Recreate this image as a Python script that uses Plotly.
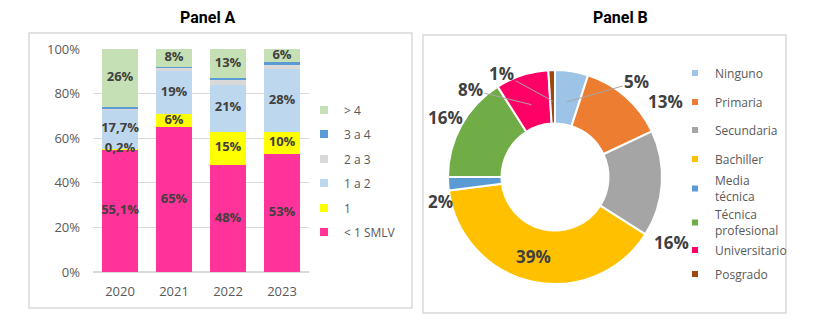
import numpy as np
import plotly.graph_objects as go

# Panel A: income bands by year (share of total, %)
years = ["2020", "2021", "2022", "2023"]
band_names = ["< 1 SMLV", "1", "1 a 2", "2 a 3", "3 a 4", "> 4"]
band_lt1 = [55.1, 65, 48, 53]
band_1 = [0.2, 6, 15, 10]
band_1a2 = [17.7, 19, 21, 28]
band_2a3 = [0.5, 1.5, 2, 2]
band_3a4 = [0.5, 0.5, 1, 1]
band_gt4 = [26, 8, 13, 6]
band_labels = [
    ["55,1%", "65%", "48%", "53%"],
    ["0,2%", "6%", "15%", "10%"],
    ["17,7%", "19%", "21%", "28%"],
    ["", "", "", ""],
    ["", "", "", ""],
    ["26%", "8%", "13%", "6%"],
]
band_colors = ["#FF3399", "#FFFF00", "#BDD7EE", "#D9D9D9", "#5B9BD5", "#C5E0B4"]
y_ticks = [0, 20, 40, 60, 80, 100]
y_ticktext = ["0%", "20%", "40%", "60%", "80%", "100%"]

# Panel B: education level (%)
levels = ["Ninguno", "Primaria", "Secundaria", "Bachiller", "Media<br>técnica",
          "Técnica<br>profesional", "Universitario", "Posgrado"]
level_pct = [5, 13, 16, 39, 2, 16, 8, 1]
level_colors = ["#9DC3E6", "#ED7D31", "#A5A5A5", "#FFC000", "#5B9BD5",
                "#70AD47", "#FF0066", "#9E480E"]

FONT = "Open Sans, Noto Sans, sans-serif"
LABEL_GRAY = "#404040"
AXIS_GRAY = "#595959"
W, H = 827, 323


def px_x(v):
    return v / W


def px_y(v):
    return (H - v) / H


fig = go.Figure()

# ---- Panel A: stacked bars ----
band_values = [band_lt1, band_1, band_1a2, band_2a3, band_3a4, band_gt4]
for name, vals, col in zip(band_names, band_values, band_colors):
    fig.add_trace(go.Bar(
        x=years, y=vals, name=name, marker=dict(color=col, line=dict(width=0)),
        showlegend=False, hoverinfo="skip",
    ))

# segment labels drawn on top of all bars, at each segment's middle
stack = np.array(band_values, dtype=float)
tops = np.cumsum(stack, axis=0)
mids = tops - stack / 2
for row, txt in enumerate(band_labels):
    keep = [i for i, t in enumerate(txt) if t]
    if not keep:
        continue
    fig.add_trace(go.Scatter(
        x=[years[i] for i in keep], y=[mids[row, i] for i in keep],
        text=[txt[i] for i in keep], mode="text", showlegend=False,
        textfont=dict(family=FONT, size=13, color=LABEL_GRAY, weight="bold"),
        hoverinfo="skip", cliponaxis=False,
    ))

# ---- Panel B: donut ----
PIE_X = (448, 662)
PIE_Y = (70, 284)
fig.add_trace(go.Pie(
    labels=levels, values=level_pct, sort=False, direction="clockwise",
    rotation=0, hole=0.5, textinfo="none",
    marker=dict(colors=level_colors, line=dict(color="white", width=2)),
    domain=dict(x=[px_x(PIE_X[0]), px_x(PIE_X[1])],
                y=[px_y(PIE_Y[1]), px_y(PIE_Y[0])]),
    showlegend=False, hoverinfo="skip",
))

# slice labels: anchored inside each slice at its mid angle, text offset outward
cx, cy = sum(PIE_X) / 2, sum(PIE_Y) / 2
anchor_r = 76
label_offsets = [(70, -20), (60, -18), (41, 61), (-5, 5), (-39, 20),
                 (-43, -23), (-61, -15), (-51, -28)]
leader = [True, False, False, False, False, False, True, True]
pct = np.array(level_pct, dtype=float)
mid_frac = (np.cumsum(pct) - pct / 2) / pct.sum()
annotations = []
for v, f, (ax, ay), lead in zip(level_pct, mid_frac, label_offsets, leader):
    theta = 2 * np.pi * f
    px = cx + anchor_r * np.sin(theta)
    py = cy - anchor_r * np.cos(theta)
    annotations.append(dict(
        text=f"<b>{v}%</b>", x=px_x(px), y=px_y(py), xref="paper", yref="paper",
        showarrow=True, ax=ax, ay=ay, arrowhead=0, arrowwidth=1,
        arrowcolor="#A6A6A6" if lead else "rgba(0,0,0,0)", standoff=0,
        font=dict(family=FONT, size=17, color=LABEL_GRAY),
    ))

# ---- Legends: one small legend per entry so row spacing can be set freely ----
legends = {}
panel_a_rows = [232, 208, 183, 159, 134, 110]   # < 1 SMLV at the bottom, > 4 on top
panel_b_rows = [73, 102, 130, 159, 189, 223, 250, 274]

n = 0
for name, col, row in zip(band_names, band_colors, panel_a_rows):
    n += 1
    key = "legend" if n == 1 else f"legend{n}"
    fig.add_trace(go.Scatter(
        x=[None], y=[None], mode="markers", name=name, legend=key,
        marker=dict(symbol="square", size=8, color=col), hoverinfo="skip"))
    legends[key] = dict(x=px_x(304), y=px_y(row), xanchor="left", yanchor="middle",
                        font=dict(size=12, color=AXIS_GRAY, family=FONT),
                        bgcolor="rgba(0,0,0,0)", itemwidth=30, borderwidth=0)

for name, col, row in zip(levels, level_colors, panel_b_rows):
    n += 1
    key = f"legend{n}"
    fig.add_trace(go.Scatter(
        x=[None], y=[None], mode="markers", name=name, legend=key,
        marker=dict(symbol="square", size=6, color=col), hoverinfo="skip"))
    legends[key] = dict(x=px_x(675), y=px_y(row), xanchor="left", yanchor="middle",
                        font=dict(size=12, color=AXIS_GRAY, family=FONT),
                        bgcolor="rgba(0,0,0,0)", itemwidth=30, borderwidth=0)

annotations += [
    dict(text="<b>Panel A</b>", x=px_x(208), y=px_y(18), xref="paper",
         yref="paper", showarrow=False, xanchor="center", yanchor="middle",
         font=dict(family="Roboto, Arial, sans-serif", size=16, color="black")),
    dict(text="<b>Panel B</b>", x=px_x(620), y=px_y(18), xref="paper",
         yref="paper", showarrow=False, xanchor="center", yanchor="middle",
         font=dict(family="Roboto, Arial, sans-serif", size=16, color="black")),
]

fig.update_layout(
    width=W, height=H,
    margin=dict(l=0, r=0, t=0, b=0, autoexpand=False),
    paper_bgcolor="white", plot_bgcolor="white",
    barmode="stack", bargap=0.35,
    font=dict(family=FONT, color=AXIS_GRAY),
    xaxis=dict(domain=[px_x(93), px_x(309)], showline=False, showgrid=False,
               automargin=False, tickfont=dict(size=13, color=AXIS_GRAY),
               ticks="", ticklabelstandoff=10),
    yaxis=dict(domain=[px_y(272), px_y(49)], range=[0, 100], automargin=False,
               tickmode="array", tickvals=y_ticks, ticktext=y_ticktext,
               gridcolor="#D9D9D9", gridwidth=1, zeroline=True,
               zerolinecolor="#D9D9D9", showline=False, ticklabelstandoff=12,
               tickfont=dict(size=13, color=AXIS_GRAY)),
    shapes=[
        dict(type="rect", xref="paper", yref="paper",
             x0=px_x(29), x1=px_x(412), y0=px_y(308), y1=px_y(33),
             line=dict(color="#D9D9D9", width=1.5)),
        dict(type="rect", xref="paper", yref="paper",
             x0=px_x(423), x1=px_x(786), y0=px_y(313), y1=px_y(35),
             line=dict(color="#D9D9D9", width=1.5)),
    ],
    annotations=annotations,
    **legends,
)

fig.write_html("out.html")
